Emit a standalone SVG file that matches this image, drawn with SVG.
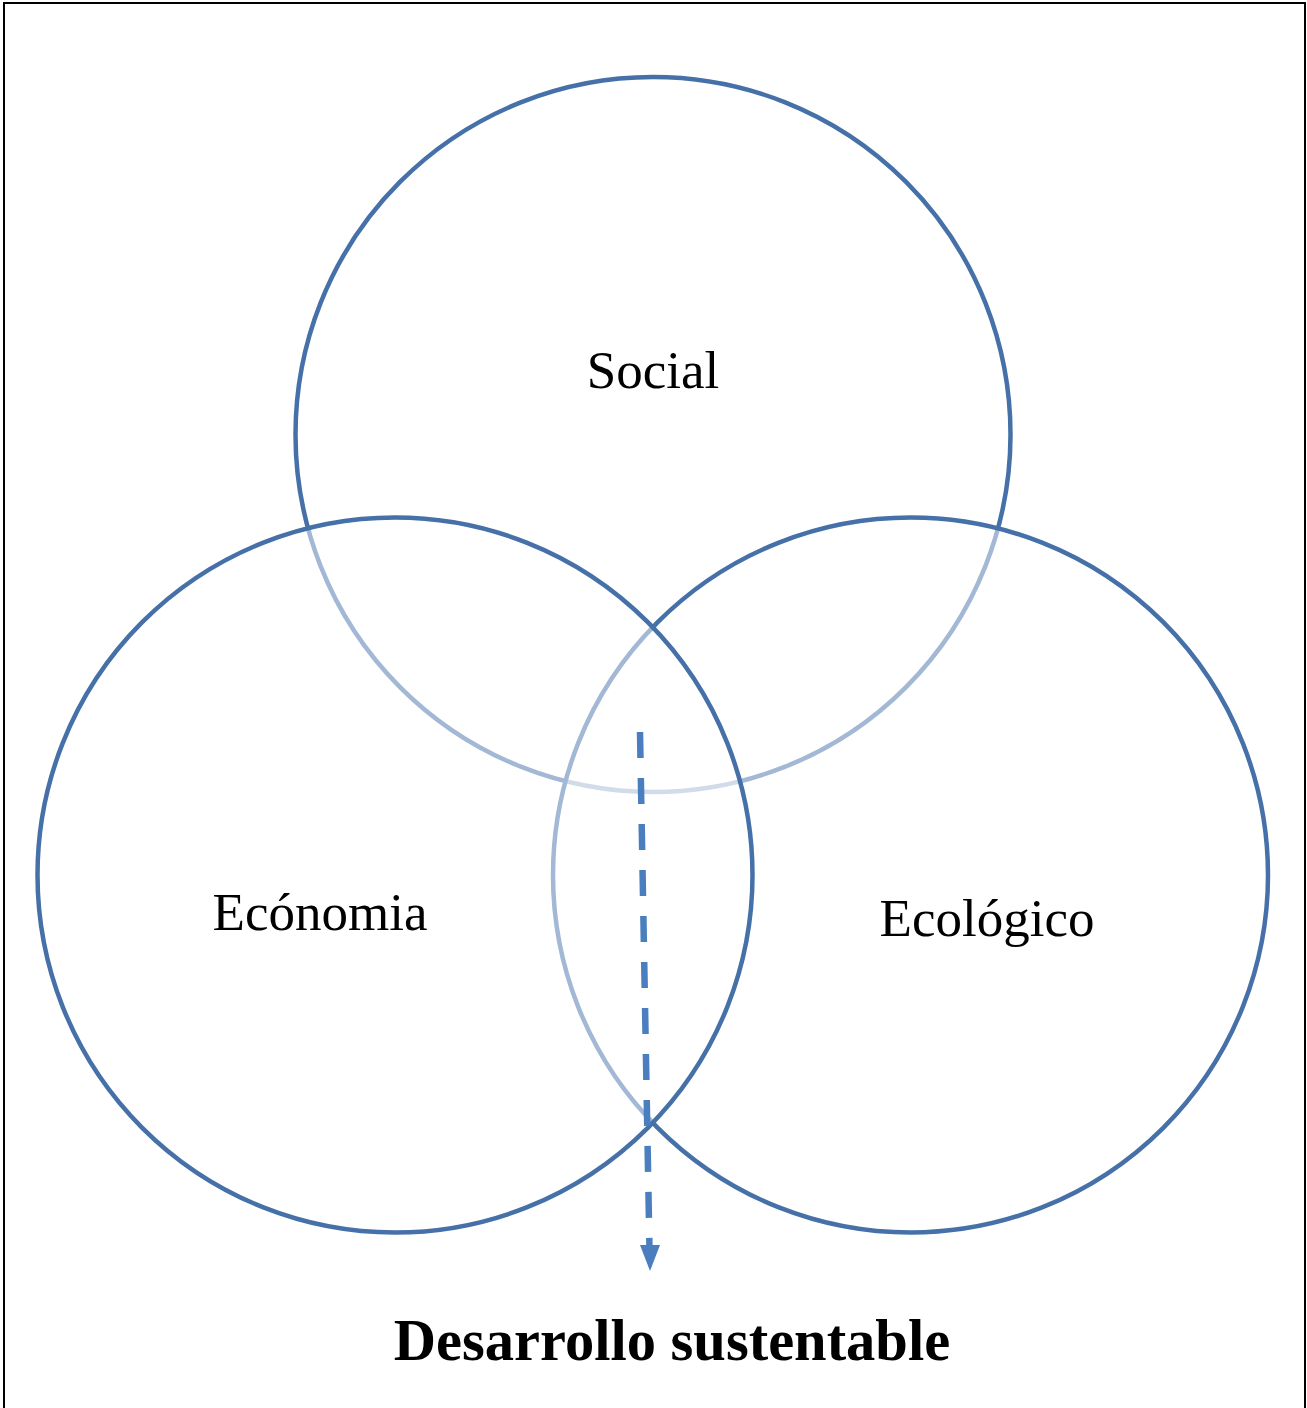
<svg xmlns="http://www.w3.org/2000/svg" width="1307" height="1408" viewBox="0 0 1307 1408">
<defs>
<style>
.c{fill:#fff;fill-opacity:0.5;stroke:#4670a8;stroke-width:4.5}
.t{font-family:"Liberation Serif","Times New Roman",serif;font-size:53px;fill:#000;text-anchor:middle}
.b{font-family:"Liberation Serif","Times New Roman",serif;font-size:58.5px;font-weight:bold;fill:#000;text-anchor:middle}
.a{stroke:#4a7ebf;stroke-width:6.5;stroke-dasharray:26 20;fill:none}
</style>
</defs>
<rect x="0" y="0" width="1307" height="1408" fill="#fff"/>
<path d="M4,1408 L4,3 L1305,3 L1305,1408" fill="none" stroke="#000" stroke-width="2"/>
<g id="social"><circle class="c" cx="653" cy="434.5" r="357.5"/></g>
<g id="ecologico"><circle class="c" cx="910.5" cy="875" r="357.5"/></g>
<g id="economia"><circle class="c" cx="395" cy="875" r="357.5"/></g>
<g id="labels">
<text class="t" x="653" y="388">Social</text>
<text class="t" x="320" y="930">Ecónomia</text>
<text class="t" x="987" y="936">Ecológico</text>
</g>
<g id="connectors">
<line class="a" x1="640" y1="732" x2="649.5" y2="1250"/>
<path d="M640,1245 L660,1245 L650,1271 Z" fill="#4a7ebf"/>
</g>
<g id="result"><text class="b" x="672" y="1360">Desarrollo sustentable</text></g>
</svg>
